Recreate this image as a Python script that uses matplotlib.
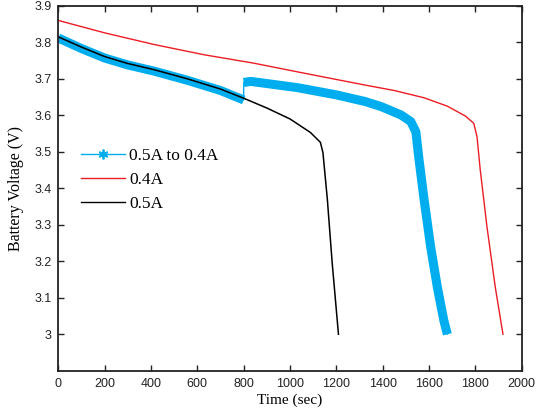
import numpy as np
import matplotlib
matplotlib.use("Agg")
import matplotlib.pyplot as plt
from matplotlib.lines import Line2D

# 0.5A discharge
t_05 = [0, 100, 200, 300, 414, 557, 700, 807, 900, 1000, 1088, 1131, 1142, 1161, 1182, 1209]
v_05 = [3.815, 3.787, 3.761, 3.742, 3.725, 3.700, 3.672, 3.645, 3.620, 3.590, 3.553, 3.526,
        3.498, 3.370, 3.195, 3.000]

# 0.4A discharge
t_04 = [0, 200, 414, 629, 843, 1057, 1323, 1450, 1579, 1679, 1757, 1793, 1807, 1821, 1850, 1886, 1919]
v_04 = [3.860, 3.826, 3.794, 3.766, 3.743, 3.716, 3.683, 3.668, 3.648, 3.625, 3.598, 3.578,
        3.541, 3.450, 3.294, 3.128, 3.000]

# 0.5A switched to 0.4A at 800 s
t_sw1 = [0, 100, 200, 300, 414, 557, 700, 800]
v_sw1 = [3.812, 3.783, 3.757, 3.738, 3.721, 3.696, 3.668, 3.642]
t_sw2 = [800, 830, 1031, 1200, 1323, 1393, 1479, 1521, 1543, 1557, 1579, 1607, 1636, 1664, 1679]
v_sw2 = [3.690, 3.693, 3.676, 3.656, 3.638, 3.624, 3.601, 3.583, 3.555, 3.477, 3.367, 3.239,
         3.128, 3.037, 3.000]

xticks = np.arange(0, 2001, 200)
yticks = [3.0, 3.1, 3.2, 3.3, 3.4, 3.5, 3.6, 3.7, 3.8, 3.9]
ylabels = ["3", "3.1", "3.2", "3.3", "3.4", "3.5", "3.6", "3.7", "3.8", "3.9"]

cyan = "#00AEEF"
red = "#ED1C24"

fig = plt.figure(figsize=(5.37, 4.18), dpi=100)
ax = fig.add_axes([0.1086, 0.113, 0.863, 0.873])

# thin line through the whole switched curve (shows the jump), thick band for the markers
ax.plot(t_sw1 + t_sw2, v_sw1 + v_sw2, color=cyan, lw=1.0)
ax.plot(t_sw1, v_sw1, color=cyan, lw=6.5, solid_capstyle="butt")
ax.plot(t_sw2, v_sw2, color=cyan, lw=6.5, solid_capstyle="butt", solid_joinstyle="round")
ax.plot(t_04, v_04, color=red, lw=1.0)
ax.plot(t_05, v_05, color="black", lw=1.1)

ax.set_xlim(0, 2000)
ax.set_ylim(2.9, 3.9)
ax.set_xticks(xticks)
ax.set_yticks(yticks)
ax.set_yticklabels(ylabels)
ax.tick_params(direction="in", top=True, right=True, length=4, width=1,
               labelsize=9, colors="#222222", pad=5)
for lab in ax.get_xticklabels() + ax.get_yticklabels():
    lab.set_fontfamily("Liberation Sans")
for s in ax.spines.values():
    s.set_linewidth(1.3)
    s.set_color("#222222")

ax.set_xlabel("Time (sec)", fontfamily="Liberation Serif", fontsize=11, labelpad=3)
ax.set_ylabel("Battery Voltage (V)", fontfamily="Liberation Serif", fontsize=11.5, labelpad=7)

handles = [
    Line2D([], [], color=cyan, lw=1.0, marker=(6, 2, 0), markersize=7, markeredgewidth=1.3),
    Line2D([], [], color=red, lw=1.0),
    Line2D([], [], color="black", lw=1.0),
]
ax.legend(handles, ["0.5A to 0.4A", "0.4A", "0.5A"], loc="upper left",
          bbox_to_anchor=(0.016, 0.654), frameon=False, handlelength=2.5,
          handletextpad=0.25, labelspacing=0.45,
          prop={"family": "Liberation Serif", "size": 12.5})

fig.savefig("out.png", dpi=100)
